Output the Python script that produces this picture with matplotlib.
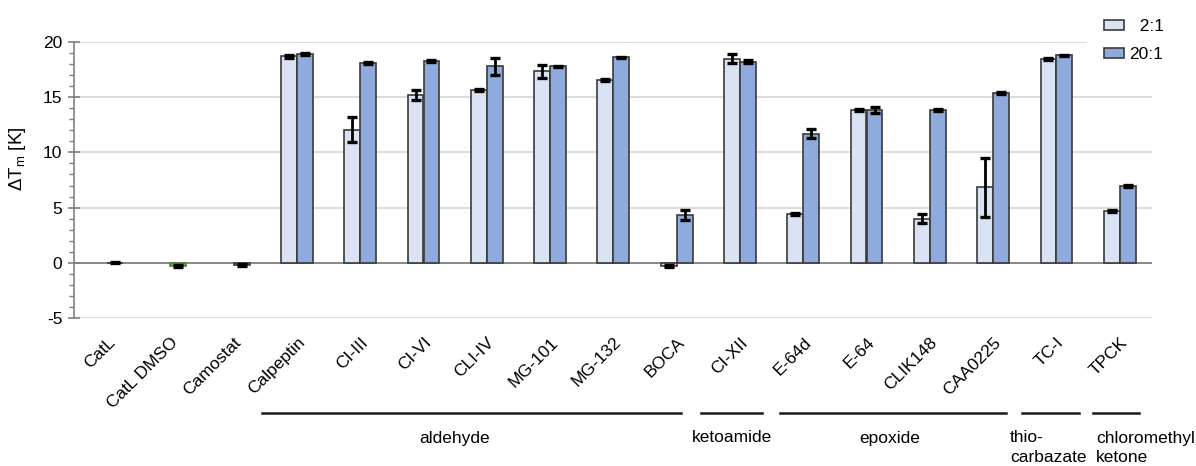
import numpy as np
import matplotlib
matplotlib.use('Agg')
import matplotlib.pyplot as plt
from matplotlib import transforms
from matplotlib.patches import Patch
from matplotlib.lines import Line2D
from matplotlib.ticker import MultipleLocator

plt.rcParams['font.family'] = ['Liberation Sans', 'DejaVu Sans']
plt.rcParams['mathtext.fontset'] = 'custom'
plt.rcParams['mathtext.rm'] = 'Liberation Sans'
plt.rcParams['mathtext.it'] = 'Liberation Sans:italic'
plt.rcParams['axes.unicode_minus'] = False

nan = np.nan
categories = ['CatL', 'CatL DMSO', 'Camostat', 'Calpeptin', 'CI-III', 'CI-VI', 'CLI-IV',
              'MG-101', 'MG-132', 'BOCA', 'CI-XII', 'E-64d', 'E-64', 'CLIK148',
              'CAA0225', 'TC-I', 'TPCK']
series_names = ['  2:1', '20:1']
ratio_2_1 = [nan, nan, nan, 18.70, 12.06, 15.17, 15.68, 17.34, 16.59, -0.30, 18.49,
             4.43, 13.81, 4.01, 6.84, 18.43, 4.67]
err_2_1 = [nan, nan, nan, 0.15, 1.15, 0.45, 0.10, 0.60, 0.08, 0.10, 0.40,
           0.06, 0.10, 0.40, 2.67, 0.10, 0.10]
ratio_20_1 = [0.00, -0.30, -0.20, 18.94, 18.13, 18.31, 17.80, 17.80, 18.61, 4.31, 18.22,
              11.70, 13.85, 13.81, 15.38, 18.79, 6.97]
err_20_1 = [0.05, 0.10, 0.10, 0.10, 0.10, 0.10, 0.75, 0.06, 0.06, 0.47, 0.15,
            0.40, 0.25, 0.10, 0.06, 0.06, 0.06]

group_labels = [['aldehyde'], ['ketoamide'], ['epoxide'], ['thio-', 'carbazate'],
                ['chloromethyl', 'ketone']]
# layout: bracket spans (in category units) and label anchor
group_spans = [(2.455, 9.07), (9.39, 10.35), (10.63, 14.20), (14.45, 15.36), (15.57, 16.31)]
group_text_x = [5.485, 9.87, 12.36, 14.27, 15.63]
group_text_ha = ['center', 'center', 'center', 'left', 'left']

c_light = '#dae3f3'
c_dark = '#8faadc'
c_green = '#70ad47'
edge = '#3a3a3a'

W, H = 1196, 466
fig = plt.figure(figsize=(W / 100, H / 100), dpi=100)
ax = fig.add_axes([73.5 / W, 1 - 318 / H, (1152 - 73.5) / W, (318 - 42) / H])

x = np.arange(len(categories))
bw = 0.25
off = 0.126

cols20 = [c_dark] * len(categories)
cols20[1] = c_green
edges20 = [edge] * len(categories)
edges20[1] = '#4f7f30'

ax.bar(x - off, ratio_2_1, bw, color=c_light, edgecolor=edge, linewidth=1.2, zorder=3)
ax.bar(x + off, ratio_20_1, bw, color=cols20, edgecolor=edges20, linewidth=1.2, zorder=3)
ekw = dict(fmt='none', ecolor='black', elinewidth=2.0, capsize=3.5, capthick=2.4, zorder=4)
ax.errorbar(x - off, ratio_2_1, yerr=err_2_1, **ekw)
ax.errorbar(x + off, ratio_20_1, yerr=err_20_1, **ekw)

ax.set_xlim(-0.53, 16.51)
ax.set_ylim(-5, 20)
ax.set_yticks([-5, 0, 5, 10, 15, 20])
ax.yaxis.set_minor_locator(MultipleLocator(1))
for yv in [-5, 5, 10, 15, 20]:
    ax.axhline(yv, color='#d9d9d9', lw=1.3, zorder=1)
ax.axhline(0, color='#808080', lw=1.3, zorder=2)

for s in ['top', 'right', 'bottom']:
    ax.spines[s].set_visible(False)
ax.spines['left'].set_color('#808080')
ax.spines['left'].set_linewidth(1.2)
ax.tick_params(axis='y', which='major', direction='inout', length=8, width=1.2,
               color='#808080', labelsize=12.5, pad=4)
ax.tick_params(axis='y', which='minor', direction='out', length=3.5, width=1.0,
               color='#808080')
ax.set_xticks(x)
ax.set_xticklabels(categories, rotation=45, ha='right', va='top', rotation_mode='anchor')
ax.tick_params(axis='x', length=0, labelsize=12.5, pad=12)

ax.set_ylabel(r'$\Delta$T$_\mathrm{m}$ [K]', fontsize=13.5)
ax.yaxis.set_label_coords(-0.042, 0.575)

trans = transforms.blended_transform_factory(ax.transData, fig.transFigure)
line_y = 1 - 413.3 / H
for (a, b) in group_spans:
    ax.add_line(Line2D([a, b], [line_y, line_y], transform=trans, color='#1a1a1a',
                       lw=1.8, clip_on=False))
for lines, tx, ha in zip(group_labels, group_text_x, group_text_ha):
    for k, t in enumerate(lines):
        ax.text(tx, 1 - (438 + 20 * k) / H, t, transform=trans, ha=ha, va='center',
                fontsize=12.5, clip_on=False)

handles = [Patch(facecolor=c_light, edgecolor=edge, linewidth=1.2),
           Patch(facecolor=c_dark, edgecolor=edge, linewidth=1.2)]
leg = fig.legend(handles, series_names, loc='upper left',
                 bbox_to_anchor=(1087 / W, 1 - 2 / H), borderaxespad=0,
                 fontsize=12.5, handlelength=1.15, handleheight=0.5,
                 handletextpad=0.3, labelspacing=0.72, borderpad=1.0,
                 frameon=True, fancybox=False, facecolor='white', edgecolor='none',
                 framealpha=1)

fig.savefig('out.png', dpi=100)
